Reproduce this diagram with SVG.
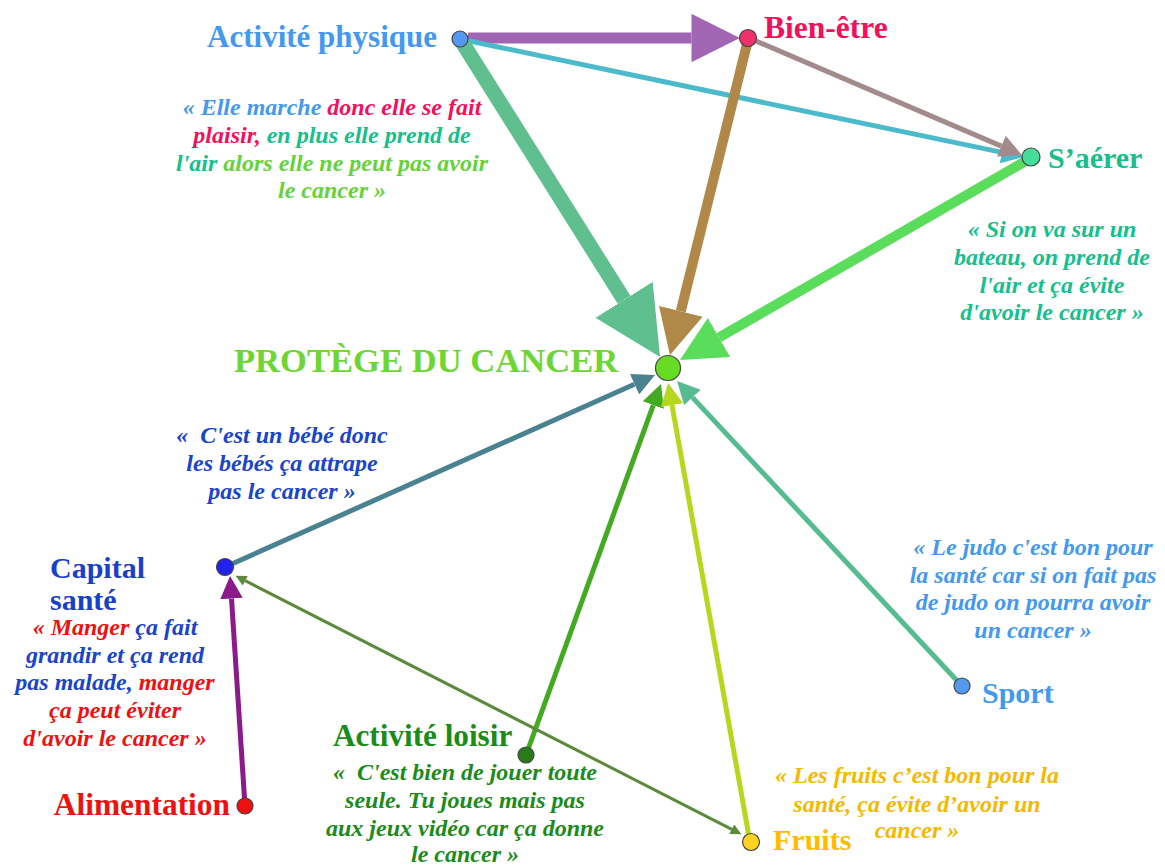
<svg xmlns="http://www.w3.org/2000/svg" width="1165" height="867" viewBox="0 0 1165 867">
<style>
.lbl{font-family:"Liberation Serif","DejaVu Serif",serif;font-weight:bold;font-size:30px}
.q{font-family:"Liberation Serif","DejaVu Serif",serif;font-weight:bold;font-style:italic;font-size:24px;text-anchor:middle}
.nd{stroke:#444;stroke-width:1.2}
.e{fill:none;stroke-linecap:butt}
</style>
<defs>
<marker id="mPurple" viewBox="0 0 10 10" refX="0" refY="5" markerWidth="4.5" markerHeight="4.4" markerUnits="strokeWidth" orient="auto"><path d="M0,0L10,5L0,10z" fill="#a066b4"/></marker>
<marker id="mCyan" viewBox="0 0 10 10" refX="0" refY="5" markerWidth="4.5" markerHeight="4.5" markerUnits="strokeWidth" orient="auto"><path d="M0,0L10,5L0,10z" fill="#4bbacb"/></marker>
<marker id="mMauve" viewBox="0 0 10 10" refX="0" refY="5" markerWidth="4.5" markerHeight="4.5" markerUnits="strokeWidth" orient="auto"><path d="M0,0L10,5L0,10z" fill="#a38b8d"/></marker>
<marker id="mSea" viewBox="0 0 10 10" refX="0" refY="5" markerWidth="4.5" markerHeight="4.6" markerUnits="strokeWidth" orient="auto"><path d="M0,0L10,5L0,10z" fill="#5fbf8f"/></marker>
<marker id="mBrown" viewBox="0 0 10 10" refX="0" refY="5" markerWidth="4.5" markerHeight="4.8" markerUnits="strokeWidth" orient="auto"><path d="M0,0L10,5L0,10z" fill="#b08848"/></marker>
<marker id="mLime" viewBox="0 0 10 10" refX="0" refY="5" markerWidth="4.5" markerHeight="4.9" markerUnits="strokeWidth" orient="auto"><path d="M0,0L10,5L0,10z" fill="#5add5a"/></marker>
<marker id="mTeal" viewBox="0 0 10 10" refX="0" refY="5" markerWidth="4.5" markerHeight="4.6" markerUnits="strokeWidth" orient="auto"><path d="M0,0L10,5L0,10z" fill="#4a8292"/></marker>
<marker id="mGreen" viewBox="0 0 10 10" refX="0" refY="5" markerWidth="4.5" markerHeight="4.6" markerUnits="strokeWidth" orient="auto"><path d="M0,0L10,5L0,10z" fill="#44aa22"/></marker>
<marker id="mYel" viewBox="0 0 10 10" refX="0" refY="5" markerWidth="4.5" markerHeight="4.6" markerUnits="strokeWidth" orient="auto"><path d="M0,0L10,5L0,10z" fill="#b5d81e"/></marker>
<marker id="mSport" viewBox="0 0 10 10" refX="0" refY="5" markerWidth="4.5" markerHeight="4.6" markerUnits="strokeWidth" orient="auto"><path d="M0,0L10,5L0,10z" fill="#55bb90"/></marker>
<marker id="mPlum" viewBox="0 0 10 10" refX="0" refY="5" markerWidth="4.5" markerHeight="4.6" markerUnits="strokeWidth" orient="auto"><path d="M0,0L10,5L0,10z" fill="#8b1a8b"/></marker>
<marker id="mOlive" viewBox="0 0 10 10" refX="0" refY="5" markerWidth="4.2" markerHeight="3.6" markerUnits="strokeWidth" orient="auto-start-reverse"><path d="M0,0L10,5L0,10z" fill="#5a8a3a"/></marker>
</defs>

<g id="connectors">
<line class="e" x1="468" y1="38" x2="691.5" y2="38" stroke="#a066b4" stroke-width="11" marker-end="url(#mPurple)"/>
<line class="e" x1="460" y1="39" x2="1002" y2="152.4" stroke="#4bbacb" stroke-width="5" marker-end="url(#mCyan)"/>
<line class="e" x1="749" y1="38" x2="1001.3" y2="146.1" stroke="#a38b8d" stroke-width="5" marker-end="url(#mMauve)"/>
<line class="e" x1="462" y1="42" x2="624.1" y2="299.8" stroke="#5fbf8f" stroke-width="15" marker-end="url(#mSea)"/>
<line class="e" x1="748" y1="40" x2="680.8" y2="311.3" stroke="#b08848" stroke-width="10" marker-end="url(#mBrown)"/>
<line class="e" x1="1031" y1="158" x2="719" y2="337.5" stroke="#5add5a" stroke-width="10" marker-end="url(#mLime)"/>
<line class="e" x1="225" y1="567" x2="634.5" y2="384.2" stroke="#4a8292" stroke-width="5" marker-end="url(#mTeal)"/>
<line class="e" x1="526" y1="755" x2="653.3" y2="405.1" stroke="#44aa22" stroke-width="5" marker-end="url(#mGreen)"/>
<line class="e" x1="750" y1="842" x2="672" y2="405.1" stroke="#b5d81e" stroke-width="5" marker-end="url(#mYel)"/>
<line class="e" x1="962" y1="686" x2="692.4" y2="397.4" stroke="#55bb90" stroke-width="5" marker-end="url(#mSport)"/>
<line class="e" x1="245" y1="806" x2="231.5" y2="598.5" stroke="#8b1a8b" stroke-width="5" marker-end="url(#mPlum)"/>
<line class="e" x1="245.2" y1="580.7" x2="731.8" y2="829.3" stroke="#5a8a3a" stroke-width="3" marker-start="url(#mOlive)" marker-end="url(#mOlive)"/>
</g>

<g id="node-activite-physique">
<circle class="nd" cx="460" cy="39" r="8" fill="#5599ee"/>
<text class="lbl" x="437" y="47" text-anchor="end" style="font-size:31px" fill="#4499ee">Activité physique</text>
<text class="q" x="332" y="115"><tspan fill="#4499ee">« Elle marche </tspan><tspan fill="#f0105e">donc elle se fait</tspan></text>
<text class="q" x="332" y="143"><tspan fill="#f0105e">plaisir,</tspan><tspan fill="#14c08c"> en plus elle prend de</tspan></text>
<text class="q" x="332" y="171"><tspan fill="#14c08c">l'air</tspan><tspan fill="#66d23a"> alors elle ne peut pas avoir</tspan></text>
<text class="q" x="332" y="198" fill="#66d23a">le cancer »</text>
</g>

<g id="node-bien-etre">
<circle class="nd" cx="748" cy="38" r="8.5" fill="#f0306a"/>
<text class="lbl" x="764" y="38" style="font-size:31.5px" fill="#f0105e">Bien-être</text>
</g>

<g id="node-saerer">
<circle class="nd" cx="1031" cy="157" r="9" fill="#44dd99"/>
<text class="lbl" x="1048" y="168" fill="#14c08c">S’aérer</text>
<text class="q" x="1052" y="237" fill="#14c08c">« Si on va sur un</text>
<text class="q" x="1052" y="265" fill="#14c08c">bateau, on prend de</text>
<text class="q" x="1052" y="293" fill="#14c08c">l'air et ça évite</text>
<text class="q" x="1052" y="320" fill="#14c08c">d'avoir le cancer »</text>
</g>

<g id="node-protege">
<circle class="nd" cx="668" cy="368" r="12.5" fill="#66dd22"/>
<text class="lbl" x="234" y="372" style="font-size:34.6px" fill="#6ed632">PROTÈGE DU CANCER</text>
</g>

<g id="node-capital-sante">
<circle class="nd" cx="225" cy="567" r="8.5" fill="#2222ee"/>
<text class="lbl" x="50" y="578" fill="#1a3fcc">Capital</text>
<text class="lbl" x="50" y="610" fill="#1a3fcc">santé</text>
<text class="q" x="282" y="443" fill="#1a44cc">«&#160; C'est un bébé donc</text>
<text class="q" x="282" y="471" fill="#1a44cc">les bébés ça attrape</text>
<text class="q" x="282" y="499" fill="#1a44cc">pas le cancer »</text>
</g>

<g id="node-alimentation">
<circle class="nd" cx="245" cy="806" r="8" fill="#ee1111"/>
<text class="lbl" x="230" y="815" text-anchor="end" style="font-size:31.4px" fill="#ee1111">Alimentation</text>
<text class="q" x="115" y="635"><tspan fill="#ee1111">« Manger</tspan><tspan fill="#1a44cc"> ça fait</tspan></text>
<text class="q" x="115" y="663" fill="#1a44cc">grandir et ça rend</text>
<text class="q" x="115" y="690"><tspan fill="#1a44cc">pas malade,</tspan><tspan fill="#ee1111"> manger</tspan></text>
<text class="q" x="115" y="718" fill="#ee1111">ça peut éviter</text>
<text class="q" x="115" y="746" fill="#ee1111">d'avoir le cancer »</text>
</g>

<g id="node-activite-loisir">
<circle class="nd" cx="526" cy="755" r="8" fill="#2a7a1a"/>
<text class="lbl" x="333" y="746" style="font-size:31.2px" fill="#1a8c1a">Activité loisir</text>
<text class="q" x="465" y="780" fill="#1a8c1a">«&#160; C'est bien de jouer toute</text>
<text class="q" x="465" y="808" fill="#1a8c1a">seule. Tu joues mais pas</text>
<text class="q" x="465" y="836" fill="#1a8c1a">aux jeux vidéo car ça donne</text>
<text class="q" x="465" y="862" fill="#1a8c1a">le cancer »</text>
</g>

<g id="node-sport">
<circle class="nd" cx="962" cy="686" r="8" fill="#5599ee"/>
<text class="lbl" x="982" y="703" fill="#4499ee">Sport</text>
<text class="q" x="1033" y="555" fill="#4499ee">« Le judo c'est bon pour</text>
<text class="q" x="1033" y="583" fill="#4499ee">la santé car si on fait pas</text>
<text class="q" x="1033" y="610" fill="#4499ee">de judo on pourra avoir</text>
<text class="q" x="1033" y="638" fill="#4499ee">un cancer »</text>
</g>

<g id="node-fruits">
<circle class="nd" cx="751" cy="842" r="8.5" fill="#ffd21f"/>
<text class="lbl" x="773" y="850" fill="#ffbb00">Fruits</text>
<text class="q" x="917" y="783" fill="#f5b800">« Les fruits c’est bon pour la</text>
<text class="q" x="917" y="812" fill="#f5b800">santé, ça évite d’avoir un</text>
<text class="q" x="917" y="838" fill="#f5b800">cancer »</text>
</g>
</svg>
